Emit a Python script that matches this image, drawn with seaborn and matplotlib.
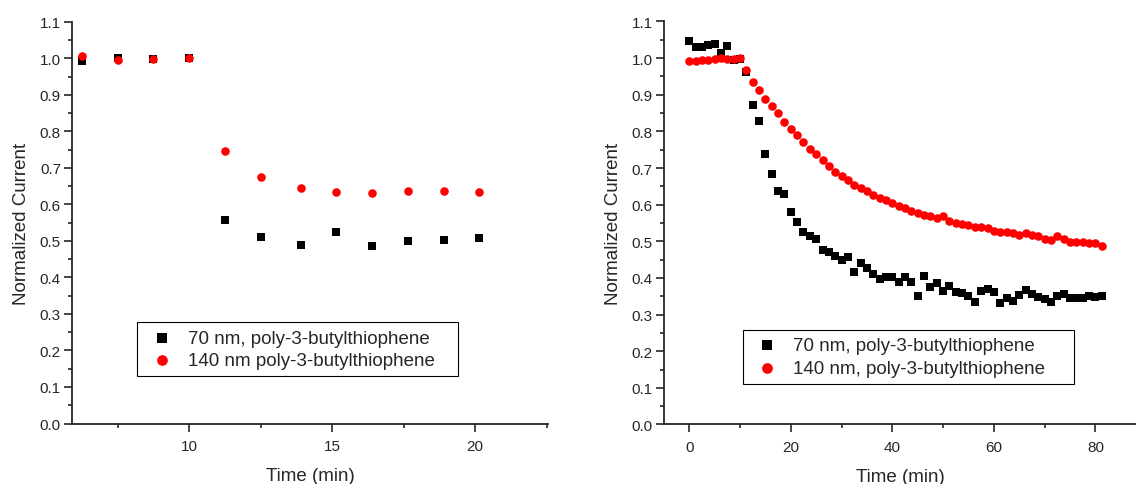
import numpy as np
import pandas as pd
import matplotlib
matplotlib.use("Agg")
import matplotlib.pyplot as plt
import seaborn as sns
from matplotlib.ticker import MultipleLocator

sns.set_style("ticks")
plt.rcParams['font.family'] = ['Liberation Sans', 'DejaVu Sans']

# left panel: step experiment
t_left = [6.25, 7.5, 8.75, 10.0, 11.25, 12.5, 13.9, 15.15, 16.4, 17.65, 18.9, 20.15]
left_70 = [0.993, 1.000, 0.998, 1.000, 0.558, 0.511, 0.489, 0.525, 0.486, 0.499, 0.503, 0.508]
left_140 = [1.007, 0.995, 0.998, 1.001, 0.745, 0.676, 0.645, 0.633, 0.630, 0.636, 0.637, 0.634]

# right panel: continuous exposure
t_right = [0, 1.25, 2.5, 3.75, 5, 6.25, 7.5, 8.75, 10, 11.25, 12.5, 13.75, 15, 16.25,
           17.5, 18.75, 20, 21.25, 22.5, 23.75, 25, 26.25, 27.5, 28.75, 30, 31.25,
           32.5, 33.75, 35, 36.25, 37.5, 38.75, 40, 41.25, 42.5, 43.75, 45, 46.25,
           47.5, 48.75, 50, 51.25, 52.5, 53.75, 55, 56.25, 57.5, 58.75, 60, 61.25,
           62.5, 63.75, 65, 66.25, 67.5, 68.75, 70, 71.25, 72.5, 73.75, 75, 76.25,
           77.5, 78.75, 80, 81.25]
right_70 = [1.046, 1.031, 1.029, 1.035, 1.038, 1.015, 1.032, 0.995, 0.998, 0.961,
            0.872, 0.829, 0.738, 0.685, 0.636, 0.629, 0.579, 0.553, 0.526, 0.515,
            0.506, 0.477, 0.470, 0.461, 0.449, 0.458, 0.417, 0.440, 0.428, 0.411,
            0.397, 0.402, 0.402, 0.390, 0.402, 0.390, 0.352, 0.405, 0.374, 0.386,
            0.365, 0.379, 0.361, 0.358, 0.352, 0.334, 0.364, 0.370, 0.362, 0.331,
            0.346, 0.338, 0.353, 0.366, 0.356, 0.347, 0.342, 0.335, 0.350, 0.357,
            0.344, 0.345, 0.345, 0.352, 0.347, 0.350]
right_140 = [0.991, 0.993, 0.995, 0.995, 0.998, 1.000, 0.998, 0.997, 1.000, 0.967,
             0.935, 0.914, 0.888, 0.868, 0.849, 0.826, 0.807, 0.789, 0.770, 0.752,
             0.738, 0.722, 0.706, 0.690, 0.677, 0.667, 0.655, 0.646, 0.636, 0.626,
             0.619, 0.613, 0.605, 0.597, 0.590, 0.584, 0.577, 0.572, 0.568, 0.563,
             0.568, 0.556, 0.550, 0.547, 0.545, 0.540, 0.538, 0.536, 0.527, 0.526,
             0.524, 0.522, 0.518, 0.522, 0.518, 0.515, 0.506, 0.504, 0.515, 0.506,
             0.499, 0.497, 0.497, 0.495, 0.495, 0.488]

labels_left = ["70 nm, poly-3-butylthiophene", "140 nm poly-3-butylthiophene"]
labels_right = ["70 nm, poly-3-butylthiophene", "140 nm, poly-3-butylthiophene"]

fig = plt.figure(figsize=(11.36, 4.85), dpi=100)
ax1 = fig.add_axes([0.0634, 0.1247, 0.419, 0.8283])
ax2 = fig.add_axes([0.5844, 0.1227, 0.4156, 0.831])


def draw(ax, t, y70, y140, labels, xlim, major, minor, leg_box):
    sns.scatterplot(x=t, y=y70, ax=ax, marker='s', color='black', s=30,
                    linewidth=0, label=labels[0], zorder=3)
    sns.scatterplot(x=t, y=y140, ax=ax, marker='o', color='#ff0000', s=38,
                    linewidth=0, label=labels[1], zorder=4)
    ax.set_xlim(*xlim)
    ax.set_ylim(0, 1.1)
    ax.xaxis.set_major_locator(MultipleLocator(major))
    ax.xaxis.set_minor_locator(MultipleLocator(minor))
    ax.yaxis.set_major_locator(MultipleLocator(0.1))
    ax.yaxis.set_minor_locator(MultipleLocator(0.05))
    ax.yaxis.set_major_formatter(matplotlib.ticker.FormatStrFormatter('%.1f'))
    for s in ['top', 'right']:
        ax.spines[s].set_visible(False)
    for s in ['left', 'bottom']:
        ax.spines[s].set_linewidth(1.3)
    ax.tick_params(which='major', direction='out', length=6, width=1.2,
                   labelsize=11, pad=2)
    ax.tick_params(axis='x', which='major', pad=5)
    ax.tick_params(which='minor', direction='out', length=2.8, width=1.2)
    ax.set_xlabel("Time (min)", fontsize=13.5, labelpad=10)
    ax.set_ylabel("Normalized Current", fontsize=13.5, labelpad=7)
    leg = ax.legend(loc='upper left', bbox_to_anchor=leg_box, mode='expand',
                    bbox_transform=fig.transFigure, frameon=True, fancybox=False,
                    framealpha=1, edgecolor='black', fontsize=13.5,
                    markerscale=1.25,
                    handlelength=1.85, handletextpad=0.45, borderpad=0.38,
                    labelspacing=0.3, borderaxespad=0)
    leg.get_frame().set_linewidth(0.8)


draw(ax1, t_left, left_70, left_140, labels_left, (5.9, 22.55), 5, 2.5,
     (0.1209, 0.2, 0.2826, 0.1334))
draw(ax2, t_right, right_70, right_140, labels_right, (-5, 88), 20, 10,
     (0.654, 0.18, 0.2914, 0.138))

fig.savefig("out.png", dpi=100)
